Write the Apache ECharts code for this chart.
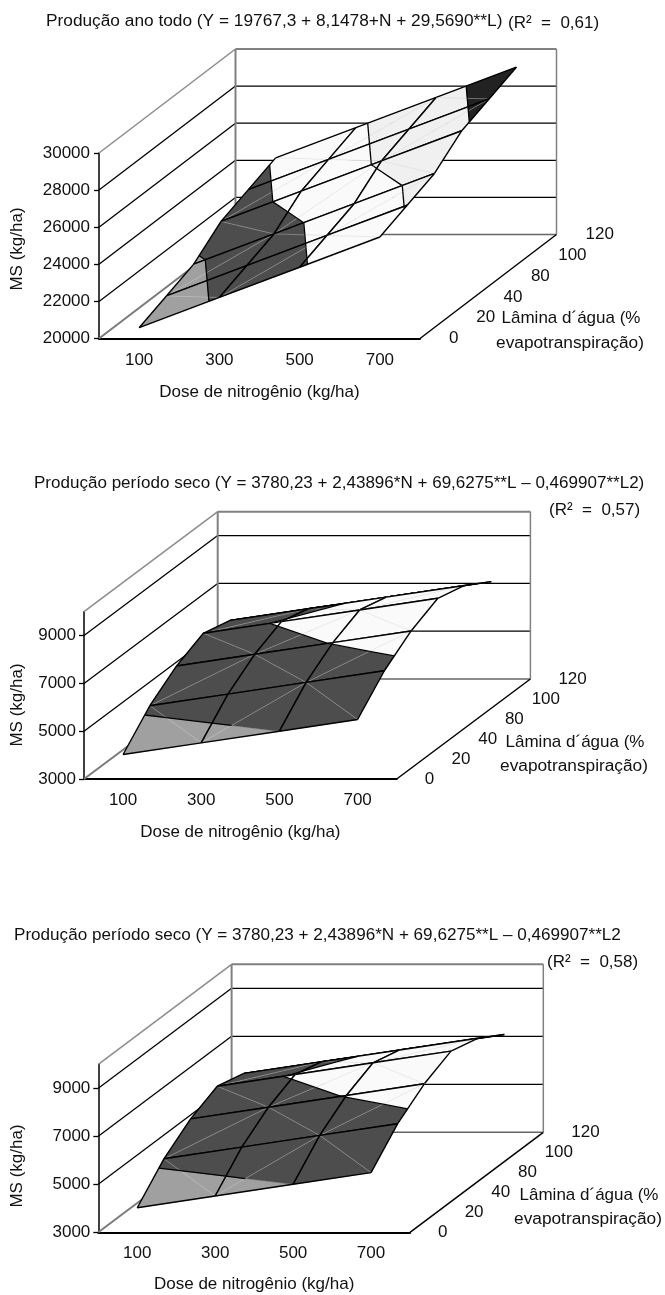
<!DOCTYPE html>
<html>
<head>
<meta charset="utf-8">
<style>
  html, body { margin: 0; padding: 0; background: #fff; }
  #main { width: 665px; height: 1295px; }
</style>
<script src="https://cdn.jsdelivr.net/npm/echarts@6/dist/echarts.min.js"></script>
</head>
<body>
<div id="main"></div>
<script>
// eixos
var doses = ['100', '300', '500', '700'];
var laminas = ['0', '20', '40', '80', '100', '120'];

// MS (kg/ha): uma linha por lâmina, uma coluna por dose
var anoTodo = [
    [20582, 22212, 23841, 25471],
    [21174, 22803, 24433, 26062],
    [21765, 23394, 25024, 26654],
    [22948, 24577, 26207, 27836],
    [23539, 25169, 26798, 28428],
    [24130, 25760, 27389, 29019]
];
var periodoSeco = [
    [4024, 4512, 5000, 5488],
    [5229, 5716, 6204, 6692],
    [6057, 6545, 7033, 7521],
    [6587, 7075, 7563, 8050],
    [6288, 6776, 7263, 7751],
    [5613, 6100, 6588, 7076]
];

var ticksAno = [20000, 22000, 24000, 26000, 28000, 30000];
var ticksSeco = [3000, 5000, 7000, 9000];

var coresAno = ['#a0a0a0', '#4d4d4d', '#fafafa', '#f0f0f0', '#222222'];
var coresSeco = ['#a0a0a0', '#4d4d4d', '#fafafa', '#f0f0f0'];

var FONT = '"Liberation Sans", Arial, sans-serif';
var FS = 17;

var panels = [
    {
        box: [99, 153, 321, 185.5], depth: [136.5, -104], values: anoTodo, ticks: ticksAno,
        min: 20000, max: 30000, colors: coresAno, labelDx: 29, nameGap: 45, labelMargin: 9
    },
    {
        box: [84, 611.7, 312.7, 167.3], depth: [133.7, -100], values: periodoSeco, ticks: ticksSeco,
        min: 3000, max: 10000, colors: coresSeco, labelDx: 28, nameGap: 45, labelMargin: 8
    },
    {
        box: [98.3, 1064.3, 311.7, 168], depth: [133.3, -100], values: periodoSeco, ticks: ticksSeco,
        min: 3000, max: 10000, colors: coresSeco, labelDx: 28, nameGap: 44, labelMargin: 8
    }
];

// textos soltos: texto, x, y, alinhamento, rotação, tamanho
var textos = [
    ['Produção ano todo (Y = 19767,3 + 8,1478+N + 29,5690**L)', 46, 21, 'left', 0, 17.3],
    ['(R²  =  0,61)', 508, 23, 'left'],
    ['Produção período seco (Y = 3780,23 + 2,43896*N + 69,6275**L – 0,469907**L2)', 34, 483, 'left', 0, 17.05],
    ['(R²  =  0,57)', 549, 510, 'left'],
    ['Produção período seco (Y = 3780,23 + 2,43896*N + 69,6275**L – 0,469907**L2', 14, 935, 'left', 0, 17.1],
    ['(R²  =  0,58)', 547, 962, 'left'],
    ['MS (kg/ha)', 17, 249, 'center', Math.PI / 2],
    ['MS (kg/ha)', 17, 705, 'center', Math.PI / 2],
    ['MS (kg/ha)', 17, 1166, 'center', Math.PI / 2],
    ['Lâmina d´água (%', 571, 318, 'center'],
    ['evapotranspiração)', 570, 343, 'center', 0, 17.3],
    ['Lâmina d´água (%', 575, 742, 'center'],
    ['evapotranspiração)', 574, 766, 'center', 0, 17.3],
    ['Lâmina d´água (%', 589, 1195, 'center'],
    ['evapotranspiração)', 588, 1219, 'center', 0, 17.3]
];

function line(a, b, color, width) {
    return {
        type: 'line',
        shape: { x1: a[0], y1: a[1], x2: b[0], y2: b[1] },
        style: { stroke: color, lineWidth: width }
    };
}

// paredes e piso do gráfico 3D
function wallRender(panel) {
    return function (params, api) {
        var v = api.value(1);
        var box = params.coordSys;
        var y = api.coord([0, v])[1];
        var dx = panel.depth[0], dy = panel.depth[1];
        var xl = box.x, xr = box.x + box.width;
        var els = [];
        if (v === panel.max) {
            els.push(line([xl, y], [xl + dx, y + dy], '#8c8c8c', 1.5));
            els.push(line([xl + dx, y + dy], [xr + dx, y + dy], '#808080', 2));
            els.push(line([xl + dx, y + dy], [xl + dx, box.y + box.height + dy], '#808080', 2));
            els.push(line([xr + dx, y + dy], [xr + dx, box.y + box.height + dy], '#808080', 1.5));
        } else if (v === panel.min) {
            els.push(line([xl, y], [xl + dx, y + dy], '#7a7a7a', 2));
            els.push(line([xl + dx, y + dy], [xr + dx, y + dy], '#666666', 1.5));
            els.push(line([xr, y], [xr + dx, y + dy], '#000', 1.5));
        } else {
            els.push(line([xl, y], [xl + dx, y + dy], '#000', 1.3));
            els.push(line([xl + dx, y + dy], [xr + dx, y + dy], '#000', 1.3));
        }
        return { type: 'group', children: els };
    };
}

// corta um polígono [x, y, z] pelo nível t; sign = 1 fica acima, -1 abaixo
function clipZ(poly, t, sign) {
    var out = [];
    for (var k = 0; k < poly.length; k++) {
        var a = poly[k], b = poly[(k + 1) % poly.length];
        var ina = sign * (a[2] - t) >= 0, inb = sign * (b[2] - t) >= 0;
        if (ina) out.push(a);
        if (ina !== inb) {
            var f = (t - a[2]) / (b[2] - a[2]);
            out.push([a[0] + f * (b[0] - a[0]), a[1] + f * (b[1] - a[1]), t]);
        }
    }
    return out;
}

function surfaceRender(panel) {
    var step = panel.ticks[1] - panel.ticks[0];
    var rows = panel.values.length - 1;
    return function (params, api) {
        var i = api.value(0), j = api.value(1);
        function pt(ci, cj) {
            var z = panel.values[cj][ci];
            var c = api.coord([ci, z]);
            return [c[0] + panel.depth[0] * cj / rows, c[1] + panel.depth[1] * cj / rows, z];
        }
        var p00 = pt(i, j), p10 = pt(i + 1, j), p01 = pt(i, j + 1), p11 = pt(i + 1, j + 1);
        // a diagonal passa sempre pelos vértices de i + j ímpar
        var odd = (i + j) % 2 === 1;
        var tris = odd ? [[p00, p10, p11], [p00, p11, p01]] : [[p00, p10, p01], [p10, p11, p01]];
        var diag = odd ? [p00, p11] : [p10, p01];
        var els = [];
        var lines = [];
        tris.forEach(function (tri) {
            panel.colors.forEach(function (color, b) {
                var lo = panel.min + b * step, hi = lo + step;
                var poly = clipZ(clipZ(tri, lo, 1), hi, -1);
                if (poly.length < 3) return;
                els.push({
                    type: 'polygon',
                    shape: { points: poly.map(function (p) { return [p[0], p[1]]; }) },
                    style: { fill: color, stroke: color, lineWidth: 0.4 }
                });
                if (b > 0) {
                    var seg = poly.filter(function (p) { return p[2] === lo; });
                    if (seg.length >= 2) lines.push(line(seg[0], seg[1], '#000', 1.3));
                }
            });
        });
        els.push(line(diag[0], diag[1], 'rgba(205,205,205,0.55)', 0.7));
        els = els.concat(lines);
        els.push(line(p00, p10, '#000', 1.4));
        els.push(line(p01, p11, '#000', 1.4));
        els.push(line(p00, p01, '#000', 1.4));
        els.push(line(p10, p11, '#000', 1.4));
        return { type: 'group', children: els };
    };
}

// rótulos do eixo de profundidade
function depthLabelRender(panel) {
    var rows = laminas.length - 1;
    return function (params, api) {
        var j = api.value(1);
        var box = params.coordSys;
        return {
            type: 'text',
            style: {
                text: laminas[j],
                x: box.x + box.width + panel.labelDx + panel.depth[0] * j / rows,
                y: box.y + box.height + panel.depth[1] * j / rows,
                align: 'left',
                verticalAlign: 'middle',
                fill: '#111',
                font: FS + 'px ' + FONT
            }
        };
    };
}

var grids = [], xAxes = [], yAxes = [], series = [];
panels.forEach(function (panel, n) {
    grids.push({ left: panel.box[0], top: panel.box[1], width: panel.box[2], height: panel.box[3] });
    xAxes.push({
        type: 'category',
        gridIndex: n,
        data: doses,
        name: 'Dose de nitrogênio (kg/ha)',
        nameLocation: 'middle',
        nameGap: panel.nameGap,
        nameTextStyle: { color: '#111', fontSize: FS, fontFamily: FONT },
        axisLine: { lineStyle: { color: '#000', width: 2 } },
        axisTick: { length: 5, lineStyle: { color: '#000', width: 1 } },
        axisLabel: { color: '#111', fontSize: FS, fontFamily: FONT, margin: 13 },
        splitLine: { show: false }
    });
    yAxes.push({
        type: 'value',
        gridIndex: n,
        min: panel.min,
        max: panel.max,
        axisLine: { show: true, onZero: false, lineStyle: { color: '#000', width: 1.5 } },
        axisTick: { show: true, length: 5, customValues: panel.ticks, lineStyle: { color: '#000', width: 1.3 } },
        axisLabel: {
            color: '#111',
            fontSize: FS,
            fontFamily: FONT,
            margin: panel.labelMargin,
            customValues: panel.ticks,
            formatter: function (v) { return String(v); }
        },
        splitLine: { show: false }
    });

    var wallValues = panel.ticks.slice();
    if (wallValues.indexOf(panel.max) < 0) wallValues.push(panel.max);
    series.push({
        type: 'custom',
        xAxisIndex: n,
        yAxisIndex: n,
        silent: true,
        renderItem: wallRender(panel),
        data: wallValues.map(function (v) { return [0, v]; })
    });

    var cells = [];
    for (var j = panel.values.length - 2; j >= 0; j--) {
        for (var i = 0; i < doses.length - 1; i++) cells.push([i, j]);
    }
    series.push({
        type: 'custom',
        xAxisIndex: n,
        yAxisIndex: n,
        silent: true,
        renderItem: surfaceRender(panel),
        encode: { x: 0 },
        dimensions: ['dose', 'lamina'],
        data: cells
    });

    series.push({
        type: 'custom',
        xAxisIndex: n,
        yAxisIndex: n,
        silent: true,
        renderItem: depthLabelRender(panel),
        encode: { x: 0 },
        data: laminas.map(function (l, j) { return [0, j]; })
    });
});

var myChart = echarts.init(document.getElementById('main'), null, { renderer: 'canvas' });
var option = {
    animation: false,
    backgroundColor: '#fff',
    grid: grids,
    xAxis: xAxes,
    yAxis: yAxes,
    series: series,
    graphic: textos.map(function (t) {
        return {
            type: 'text',
            x: t[1],
            y: t[2],
            rotation: t[4] || 0,
            silent: true,
            style: {
                text: t[0],
                align: t[3],
                verticalAlign: 'middle',
                fill: '#111',
                font: (t[5] || FS) + 'px ' + FONT
            }
        };
    })
};
myChart.setOption(option);
</script>
</body>
</html>
